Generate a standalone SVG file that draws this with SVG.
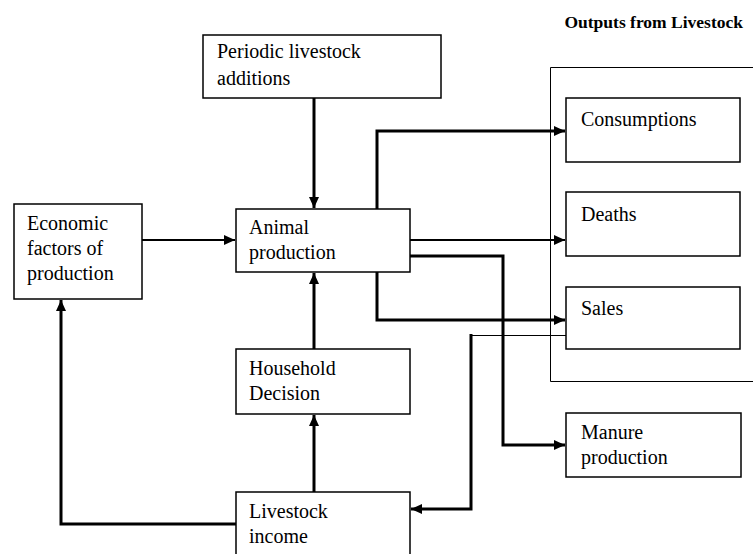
<svg xmlns="http://www.w3.org/2000/svg" width="753" height="554" viewBox="0 0 753 554">
<style>
.box{fill:#fff;stroke:#000;stroke-width:1.5}
.t{font-family:"Liberation Serif","Times New Roman",serif;font-size:20px;fill:#000}
.title{font-family:"Liberation Serif","Times New Roman",serif;font-size:17.5px;font-weight:bold;fill:#000}
.c{fill:none;stroke:#000;stroke-linejoin:miter}
.thick{stroke-width:3}
.mid{stroke-width:2}
.thin{stroke-width:1}
</style>
<defs>
<marker id="ah" markerUnits="userSpaceOnUse" markerWidth="12" markerHeight="12" viewBox="0 0 12 12" refX="11" refY="6" orient="auto">
<path d="M0,1 L11,6 L0,11 Z" fill="#000"/>
</marker>
</defs>
<rect width="753" height="554" fill="#fff"/>
<text class="title" x="743" y="28" text-anchor="end">Outputs from Livestock</text>
<g id="outputs-container">
<path d="M760,67.5 H550.5 V381.5 H760" fill="none" stroke="#000" stroke-width="1"/>
</g>
<g id="connectors">
<path class="c thick" d="M314,98 V208" marker-end="url(#ah)"/>
<path class="c mid" d="M142,240 H235" marker-end="url(#ah)"/>
<path class="c thick" d="M314,349 V273" marker-end="url(#ah)"/>
<path class="c thick" d="M314,492 V415" marker-end="url(#ah)"/>
<path class="c thick" d="M236,524 H61 V300" marker-end="url(#ah)"/>
<path class="c thick" d="M377,209 V131 H565" marker-end="url(#ah)"/>
<path class="c mid" d="M410,240 H565" marker-end="url(#ah)"/>
<path class="c thick" d="M410,256 H503 V445 H565" marker-end="url(#ah)"/>
<path class="c thick" d="M377,272 V320 H565" marker-end="url(#ah)"/>
<path class="c thin" d="M566,335.5 H471"/>
<path class="c thick" d="M471,334 V509 H411" marker-end="url(#ah)"/>
</g>
<g id="periodic">
<rect class="box" x="203" y="35" width="238" height="63"/>
<text class="t" x="217" y="58">Periodic livestock</text>
<text class="t" x="217" y="85">additions</text>
</g>
<g id="economic">
<rect class="box" x="14" y="204" width="128" height="95"/>
<text class="t" x="27" y="230">Economic</text>
<text class="t" x="27" y="255">factors of</text>
<text class="t" x="27" y="280">production</text>
</g>
<g id="animal">
<rect class="box" x="236" y="209" width="174" height="63"/>
<text class="t" x="249" y="234">Animal</text>
<text class="t" x="249" y="259">production</text>
</g>
<g id="household">
<rect class="box" x="236" y="349" width="174" height="65"/>
<text class="t" x="249" y="375">Household</text>
<text class="t" x="249" y="400">Decision</text>
</g>
<g id="livestock-income">
<rect class="box" x="236" y="492" width="174" height="80"/>
<text class="t" x="249" y="518">Livestock</text>
<text class="t" x="249" y="543">income</text>
</g>
<g id="consumptions">
<rect class="box" x="566" y="98" width="174" height="64"/>
<text class="t" x="581" y="126">Consumptions</text>
</g>
<g id="deaths">
<rect class="box" x="566" y="192" width="174" height="64"/>
<text class="t" x="581" y="221">Deaths</text>
</g>
<g id="sales">
<rect class="box" x="566" y="287" width="174" height="62"/>
<text class="t" x="581" y="315">Sales</text>
</g>
<g id="manure">
<rect class="box" x="566" y="413" width="175" height="64"/>
<text class="t" x="581" y="439">Manure</text>
<text class="t" x="581" y="464">production</text>
</g>
</svg>
